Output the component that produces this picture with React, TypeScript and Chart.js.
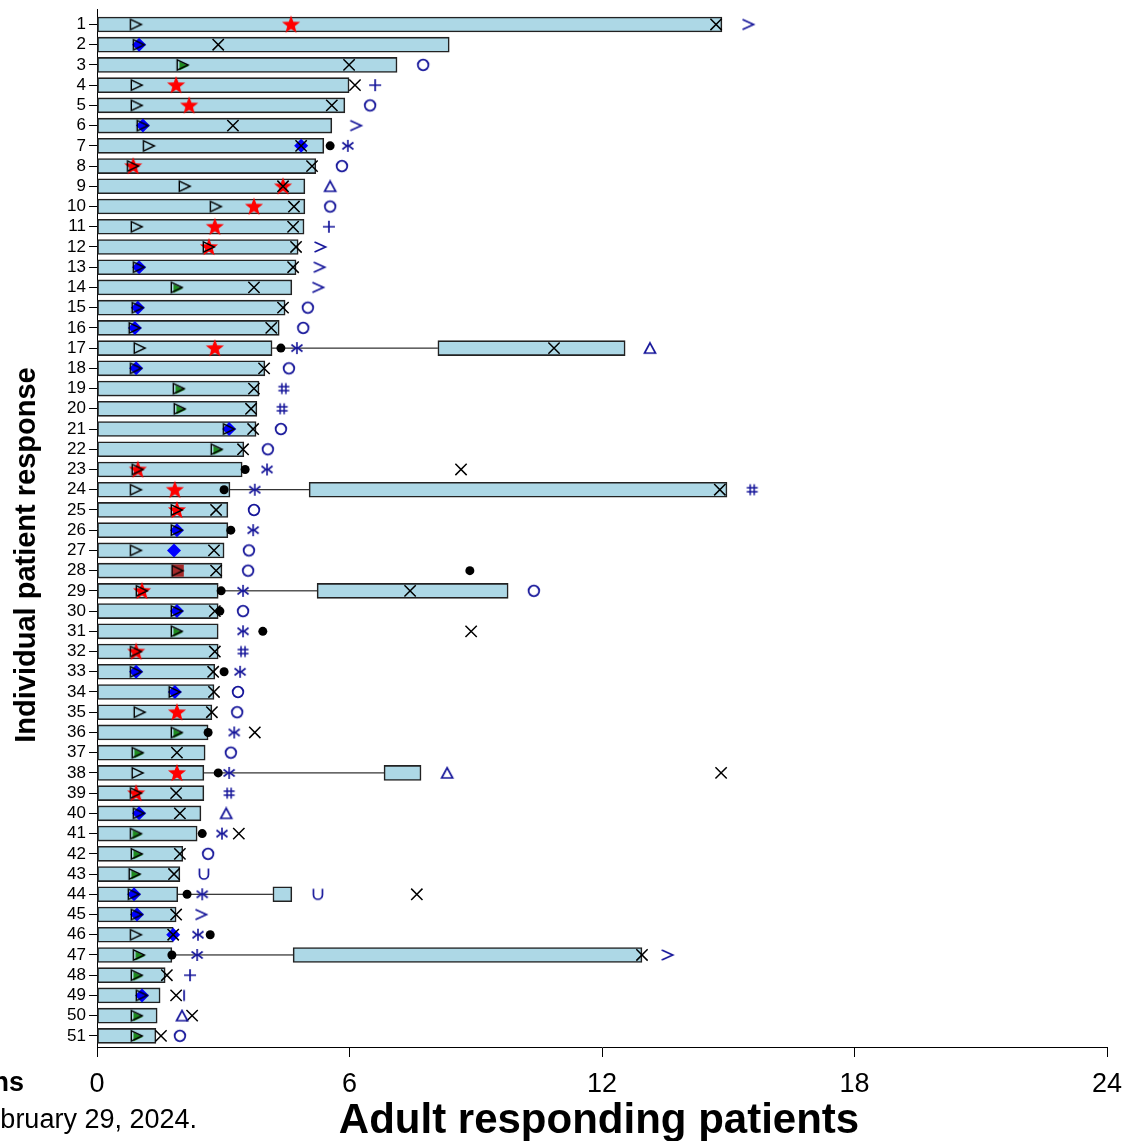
import React, { useEffect, useRef } from 'react';
import { Chart, registerables } from 'chart.js';

Chart.register(...registerables);

// ---------- data ----------
const patients = [1, 2, 3, 4, 5, 6, 7, 8, 9, 10, 11, 12, 13, 14, 15, 16, 17, 18, 19, 20, 21, 22, 23, 24, 25, 26, 27, 28, 29, 30, 31, 32, 33, 34, 35, 36, 37, 38, 39, 40, 41, 42, 43, 44, 45, 46, 47, 48, 49, 50, 51];
const xTicks = [0, 6, 12, 18, 24];

// first treatment/response period (bar from 0 to end)
const firstEnd = [14.85, 8.37, 7.13, 5.99, 5.89, 5.58, 5.39, 5.2, 4.94, 4.94, 4.92, 4.78, 4.73, 4.63, 4.47, 4.33, 4.16, 3.99, 3.85, 3.8, 3.78, 3.49, 3.45, 3.16, 3.11, 3.11, 3.02, 2.97, 2.88, 2.88, 2.88, 2.88, 2.8, 2.78, 2.73, 2.64, 2.57, 2.54, 2.54, 2.47, 2.38, 2.04, 1.97, 1.92, 1.88, 1.81, 1.78, 1.62, 1.5, 1.43, 1.4];

// second period
const secondRows = [17, 24, 29, 38, 44, 47];
const secondStart = [8.1, 5.04, 5.23, 6.82, 4.18, 4.66];
const secondEnd = [12.55, 14.97, 9.77, 7.7, 4.63, 12.95];

// open triangle (one per patient)
const openTriX = [0.93, 1.0, 2.04, 0.95, 0.95, 1.09, 1.24, 0.86, 2.09, 2.83, 0.95, 2.66, 1.0, 1.9, 0.97, 0.9, 1.02, 0.93, 1.95, 1.97, 3.14, 2.85, 0.97, 0.93, 1.9, 1.9, 0.93, 1.92, 1.07, 1.9, 1.9, 0.93, 0.93, 1.85, 1.02, 1.9, 0.97, 0.97, 0.93, 1.0, 0.93, 0.95, 0.9, 0.88, 0.95, 0.93, 1.0, 0.95, 1.07, 0.95, 0.95];

// red star
const starRows = [1, 4, 5, 8, 9, 10, 11, 12, 17, 23, 24, 25, 29, 32, 35, 38, 39];
const starX = [4.61, 1.88, 2.19, 0.86, 4.42, 3.73, 2.8, 2.66, 2.8, 0.97, 1.85, 1.9, 1.07, 0.93, 1.9, 1.9, 0.93];

// blue diamond
const diamondRows = [2, 6, 7, 13, 15, 16, 18, 21, 26, 27, 30, 33, 34, 40, 44, 45, 46, 49];
const diamondX = [1.0, 1.09, 4.85, 1.0, 0.97, 0.9, 0.93, 3.14, 1.9, 1.83, 1.9, 0.93, 1.85, 1.0, 0.88, 0.95, 1.81, 1.07];

// green triangle
const greenRows = [3, 14, 19, 20, 22, 31, 36, 37, 41, 42, 43, 47, 48, 50, 51];
const greenX = [2.04, 1.9, 1.95, 1.97, 2.85, 1.9, 1.9, 0.97, 0.93, 0.95, 0.9, 1.0, 0.95, 0.95, 0.95];

// brown square
const squareRows = [28];
const squareX = [1.92];

// black X
const crossRows = [1, 2, 3, 4, 5, 6, 7, 8, 9, 10, 11, 12, 13, 14, 15, 16, 17, 18, 19, 20, 21, 22, 23, 24, 25, 27, 28, 29, 30, 31, 32, 33, 34, 35, 36, 37, 38, 39, 40, 41, 42, 43, 44, 45, 46, 47, 48, 49, 50, 51];
const crossX = [14.71, 2.88, 5.99, 6.13, 5.58, 3.23, 4.85, 5.11, 4.42, 4.68, 4.66, 4.73, 4.66, 3.73, 4.42, 4.14, 10.86, 3.97, 3.73, 3.66, 3.71, 3.47, 8.65, 14.8, 2.83, 2.78, 2.83, 7.44, 2.8, 8.89, 2.8, 2.76, 2.78, 2.73, 3.75, 1.9, 14.83, 1.88, 1.97, 3.37, 1.97, 1.83, 7.6, 1.88, 1.81, 12.95, 1.66, 1.88, 2.26, 1.52];

// black dot
const dotRows = [7, 17, 23, 24, 26, 28, 29, 30, 31, 33, 36, 38, 41, 44, 46, 47];
const dotX = [5.54, 4.37, 3.52, 3.02, 3.18, 8.86, 2.95, 2.92, 3.94, 3.02, 2.64, 2.88, 2.5, 2.14, 2.69, 1.78];

// blue annotation symbols
const gtRows = [1, 6, 12, 13, 14, 45, 47];
const gtX = [15.47, 6.15, 5.3, 5.28, 5.25, 2.47, 13.55];
const circleRows = [3, 5, 8, 10, 15, 16, 18, 21, 22, 25, 27, 28, 29, 30, 34, 35, 37, 42, 51];
const circleX = [7.75, 6.49, 5.82, 5.54, 5.01, 4.9, 4.56, 4.37, 4.06, 3.73, 3.61, 3.59, 10.38, 3.47, 3.35, 3.33, 3.18, 2.64, 1.97];
const plusRows = [4, 11, 48];
const plusX = [6.61, 5.51, 2.21];
const deltaRows = [9, 17, 38, 40, 50];
const deltaX = [5.54, 13.14, 8.32, 3.07, 2.02];
const barbRows = [7, 17, 23, 24, 26, 29, 31, 33, 36, 38, 41, 44, 46, 47];
const barbX = [5.96, 4.75, 4.04, 3.75, 3.71, 3.47, 3.47, 3.4, 3.26, 3.14, 2.97, 2.5, 2.4, 2.38];
const hashRows = [19, 20, 24, 32, 39];
const hashX = [4.44, 4.4, 15.57, 3.47, 3.14];
const cupRows = [43, 44];
const cupX = [2.54, 5.25];
const barRows = [49];
const barX = [2.07];

const yTitle = 'Individual patient response';
const xTitle = 'Adult responding patients';
const leftNote1 = 'Symbols and abbreviations';
const leftNote2 = 'Data cutoff: February 29, 2024.';

const FONT = '"Liberation Sans", Arial, Helvetica, sans-serif';
const NAVY = '#16169a';

function makeSymbol(w: number, h: number, draw: (ctx: CanvasRenderingContext2D) => void) {
  const c = document.createElement('canvas');
  c.width = w;
  c.height = h;
  const ctx = c.getContext('2d') as CanvasRenderingContext2D;
  ctx.lineCap = 'butt';
  ctx.lineJoin = 'miter';
  draw(ctx);
  return c;
}

function buildSymbols() {
  const star = makeSymbol(22, 22, (ctx) => {
    ctx.fillStyle = '#ff0000';
    ctx.beginPath();
    const cx = 11, cy = 11.5, R = 9.5, r = 4.0;
    for (let i = 0; i < 10; i++) {
      const a = -Math.PI / 2 + (i * Math.PI) / 5;
      const rad = i % 2 === 0 ? R : r;
      const px = cx + rad * Math.cos(a);
      const py = cy + rad * Math.sin(a);
      if (i === 0) ctx.moveTo(px, py); else ctx.lineTo(px, py);
    }
    ctx.closePath();
    ctx.fill();
  });
  const openTri = makeSymbol(16, 14, (ctx) => {
    ctx.strokeStyle = '#000';
    ctx.lineWidth = 1.4;
    ctx.beginPath();
    ctx.moveTo(2.3, 1.8);
    ctx.lineTo(13.3, 7);
    ctx.lineTo(2.3, 12.2);
    ctx.closePath();
    ctx.stroke();
  });
  const greenTri = makeSymbol(16, 14, (ctx) => {
    ctx.fillStyle = '#1f8c1f';
    ctx.beginPath();
    ctx.moveTo(4.5, 3.5);
    ctx.lineTo(14, 8);
    ctx.lineTo(4.5, 12.5);
    ctx.closePath();
    ctx.fill();
  });
  const gt = makeSymbol(16, 14, (ctx) => {
    ctx.strokeStyle = NAVY;
    ctx.lineWidth = 1.7;
    ctx.beginPath();
    ctx.moveTo(2.5, 2);
    ctx.lineTo(13.5, 7);
    ctx.lineTo(2.5, 12);
    ctx.stroke();
  });
  const circ = makeSymbol(16, 16, (ctx) => {
    ctx.strokeStyle = NAVY;
    ctx.lineWidth = 1.8;
    ctx.beginPath();
    ctx.arc(8, 8, 5.3, 0, Math.PI * 2);
    ctx.stroke();
  });
  const plus = makeSymbol(16, 16, (ctx) => {
    ctx.strokeStyle = NAVY;
    ctx.lineWidth = 1.7;
    ctx.beginPath();
    ctx.moveTo(8, 2);
    ctx.lineTo(8, 14);
    ctx.moveTo(2, 8);
    ctx.lineTo(14, 8);
    ctx.stroke();
  });
  const delta = makeSymbol(16, 14, (ctx) => {
    ctx.strokeStyle = NAVY;
    ctx.lineWidth = 1.7;
    ctx.beginPath();
    ctx.moveTo(8, 1.8);
    ctx.lineTo(13.5, 12);
    ctx.lineTo(2.5, 12);
    ctx.closePath();
    ctx.stroke();
  });
  const barb = makeSymbol(16, 16, (ctx) => {
    ctx.strokeStyle = NAVY;
    ctx.lineWidth = 1.6;
    ctx.beginPath();
    ctx.moveTo(8, 2);
    ctx.lineTo(8, 14);
    ctx.moveTo(2.5, 4.5);
    ctx.lineTo(7, 8);
    ctx.lineTo(2.5, 11.5);
    ctx.moveTo(13.5, 4.5);
    ctx.lineTo(9, 8);
    ctx.lineTo(13.5, 11.5);
    ctx.stroke();
  });
  const hash = makeSymbol(16, 16, (ctx) => {
    ctx.strokeStyle = NAVY;
    ctx.lineWidth = 1.5;
    ctx.beginPath();
    ctx.moveTo(6, 2.5);
    ctx.lineTo(6, 13.5);
    ctx.moveTo(10, 2.5);
    ctx.lineTo(10, 13.5);
    ctx.moveTo(2.5, 6);
    ctx.lineTo(13.5, 6);
    ctx.moveTo(2.5, 10);
    ctx.lineTo(13.5, 10);
    ctx.stroke();
  });
  const cup = makeSymbol(16, 16, (ctx) => {
    ctx.strokeStyle = NAVY;
    ctx.lineWidth = 1.7;
    ctx.beginPath();
    ctx.moveTo(3.5, 2.5);
    ctx.lineTo(3.5, 8.5);
    ctx.arc(8, 8.5, 4.5, Math.PI, 0, true);
    ctx.lineTo(12.5, 2.5);
    ctx.stroke();
  });
  const bar = makeSymbol(8, 16, (ctx) => {
    ctx.strokeStyle = NAVY;
    ctx.lineWidth = 1.7;
    ctx.beginPath();
    ctx.moveTo(4, 2.5);
    ctx.lineTo(4, 13.5);
    ctx.stroke();
  });
  return { star, openTri, greenTri, gt, circ, plus, delta, barb, hash, cup, bar };
}

const pts = (rows: number[], xs: number[]) => rows.map((r, i) => ({ x: xs[i], y: r }));

const textPlugin = {
  id: 'swimmerTexts',
  afterDraw(chart: any) {
    const ctx: CanvasRenderingContext2D = chart.ctx;
    const area = chart.chartArea;
    ctx.save();
    ctx.fillStyle = '#000';
    // y title
    ctx.save();
    ctx.font = `bold 29px ${FONT}`;
    ctx.textAlign = 'center';
    ctx.textBaseline = 'alphabetic';
    ctx.translate(35, 555);
    ctx.rotate(-Math.PI / 2);
    ctx.fillText(yTitle, 0, 0);
    ctx.restore();
    // x title
    ctx.font = `bold 42px ${FONT}`;
    ctx.textAlign = 'center';
    ctx.textBaseline = 'alphabetic';
    ctx.fillText(xTitle, (area.left + area.right) / 2 - 3, 1133);
    // clipped notes at left
    ctx.textAlign = 'right';
    ctx.font = `bold 27px ${FONT}`;
    ctx.fillText(leftNote1, 24, 1091);
    ctx.font = `27px ${FONT}`;
    ctx.fillText(leftNote2, 197, 1128);
    ctx.restore();
  },
};

export default function App() {
  const ref = useRef<HTMLCanvasElement | null>(null);

  useEffect(() => {
    if (!ref.current) return;
    const s = buildSymbols();

    const scatter = (label: string, data: any[], style: any, order: number, extra: any = {}) => ({
      type: 'scatter' as const,
      label,
      data,
      order,
      pointStyle: style,
      pointRadius: 6,
      pointHoverRadius: 6,
      pointBorderWidth: 0,
      pointBackgroundColor: '#000',
      pointBorderColor: '#000',
      ...extra,
    });

    const connectors = secondRows.map((r, i) => ({
      type: 'line' as const,
      label: 'gap ' + r,
      data: [
        { x: firstEnd[r - 1], y: r },
        { x: secondStart[i], y: r },
      ],
      borderColor: '#000',
      borderWidth: 1,
      pointRadius: 0,
      order: 30,
    }));

    const chart = new Chart(ref.current, {
      type: 'bar',
      data: {
        datasets: [
          {
            type: 'bar',
            label: 'period 1',
            data: patients.map((p, i) => ({ y: p, x: [0, firstEnd[i]] })),
            backgroundColor: '#add8e6',
            borderColor: '#222',
            borderWidth: 1.6,
            borderSkipped: false,
            barThickness: 15,
            grouped: false,
            order: 20,
          } as any,
          {
            type: 'bar',
            label: 'period 2',
            data: secondRows.map((r, i) => ({ y: r, x: [secondStart[i], secondEnd[i]] })),
            backgroundColor: '#add8e6',
            borderColor: '#222',
            borderWidth: 1.6,
            borderSkipped: false,
            barThickness: 15,
            grouped: false,
            order: 20,
          } as any,
          ...connectors,
          scatter('square', pts(squareRows, squareX), 'rect', 12, { pointRadius: 8.5, pointBackgroundColor: '#a52a2a' }),
          scatter('green', pts(greenRows, greenX), s.greenTri, 12),
          scatter('diamond', pts(diamondRows, diamondX), 'rectRot', 12, { pointRadius: 7, pointBackgroundColor: '#0000ff' }),
          scatter('star', pts(starRows, starX), s.star, 12),
          scatter('start', pts(patients, openTriX), s.openTri, 10),
          scatter('cross', pts(crossRows, crossX), 'crossRot', 8, { pointRadius: 8, pointBorderWidth: 1.5, pointBorderColor: '#000' }),
          scatter('dot', pts(dotRows, dotX), 'circle', 7, { pointRadius: 4.5, pointBackgroundColor: '#000' }),
          scatter('gt', pts(gtRows, gtX), s.gt, 6),
          scatter('circle', pts(circleRows, circleX), s.circ, 6),
          scatter('plus', pts(plusRows, plusX), s.plus, 6),
          scatter('delta', pts(deltaRows, deltaX), s.delta, 6),
          scatter('barb', pts(barbRows, barbX), s.barb, 6),
          scatter('hash', pts(hashRows, hashX), s.hash, 6),
          scatter('cup', pts(cupRows, cupX), s.cup, 6),
          scatter('bar', pts(barRows, barX), s.bar, 6),
        ] as any,
      },
      options: {
        indexAxis: 'y',
        animation: false,
        responsive: false,
        maintainAspectRatio: false,
        events: [],
        layout: { padding: { top: 0, right: 17, left: 0, bottom: 0 } },
        plugins: {
          legend: { display: false },
          tooltip: { enabled: false },
        },
        scales: {
          x: {
            type: 'linear',
            position: 'bottom',
            min: 0,
            max: 24,
            offset: false,
            afterBuildTicks: (axis: any) => {
              axis.ticks = xTicks.map((v) => ({ value: v }));
            },
            ticks: {
              color: '#000',
              font: { size: 27, family: FONT },
              padding: 11,
              maxRotation: 0,
            },
            grid: {
              drawOnChartArea: false,
              drawTicks: true,
              tickLength: 10,
              color: '#000',
              lineWidth: 1,
              offset: false,
            },
            border: { display: true, color: '#000', width: 1 },
            afterFit: (sc: any) => {
              sc.height = 94;
              sc.paddingLeft = 0;
              sc.paddingRight = 0;
            },
          },
          y: {
            type: 'linear',
            reverse: true,
            min: 0.26,
            max: 51.55,
            offset: false,
            afterBuildTicks: (axis: any) => {
              axis.ticks = patients.map((v) => ({ value: v }));
            },
            ticks: {
              color: '#000',
              autoSkip: false,
              font: { size: 17, family: FONT },
              padding: 3,
              callback: (v: any) => String(v),
            },
            grid: {
              drawOnChartArea: false,
              drawTicks: true,
              tickLength: 8,
              color: '#000',
              lineWidth: 1,
              offset: false,
            },
            border: { display: true, color: '#000', width: 1 },
            afterFit: (sc: any) => {
              sc.width = 97;
              sc.paddingTop = 0;
              sc.paddingBottom = 0;
            },
          },
        },
      } as any,
      plugins: [textPlugin],
    });

    return () => chart.destroy();
  }, []);

  return (
    <div style={{ position: 'absolute', left: 0, top: 0, width: 1124, height: 1141, background: '#fff' }}>
      <canvas ref={ref} width={1124} height={1141} style={{ display: 'block', width: 1124, height: 1141 }} />
    </div>
  );
}
